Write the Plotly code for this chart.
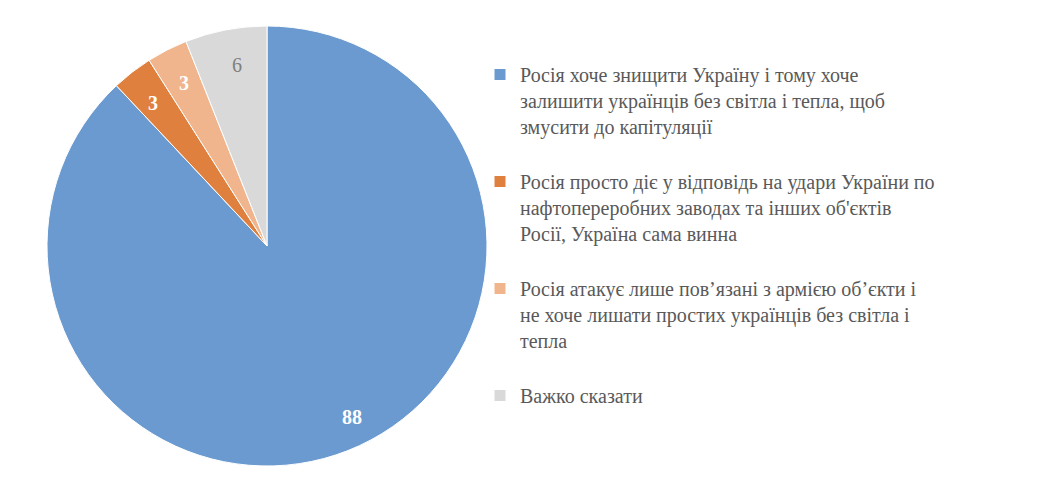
import math
import plotly.graph_objects as go

# дані
labels = [
    'Росія хоче знищити Україну і тому хоче<br>залишити українців без світла і тепла, щоб<br>змусити до капітуляції',
    'Росія просто діє у відповідь на удари України по<br>нафтопереробних заводах та інших об\'єктів<br>Росії, Україна сама винна',
    'Росія атакує лише пов’язані з армією об’єкти і<br>не хоче лишати простих українців без світла і<br>тепла',
    'Важко сказати',
]
values = [88, 3, 3, 6]
colors = ['#6A9AD0', '#E0803E', '#F0B58C', '#D9D9D9']
label_colors = ['white', 'white', 'white', '#7F7F7F']
label_bold = [True, True, True, False]

W, H = 1062, 501
off = 8  # відступ body у браузері
font_fam = 'Liberation Serif, Times New Roman, serif'
dom_x = [(47 - off) / W, (487 - off) / W]
dom_y = [1 - (466 - off) / H, 1 - (26 - off) / H]

fig = go.Figure(go.Pie(
    labels=[l + '<br> ' for l in labels],
    values=values,
    sort=False,
    direction='clockwise',
    rotation=0,
    marker=dict(colors=colors, line=dict(color='white', width=1)),
    textinfo='none',
    hoverinfo='label+value',
    domain=dict(x=dom_x, y=dom_y),
))

# підписи значень всередині сектора (біля краю)
cx = (dom_x[0] + dom_x[1]) / 2
cy = (dom_y[0] + dom_y[1]) / 2
r_px = 0.9 * 220
total = sum(values)
cum = 0
for v, c, b in zip(values, label_colors, label_bold):
    mid = (cum + v / 2) / total * 2 * math.pi
    cum += v
    ax = cx + r_px * math.sin(mid) / W
    ay = cy + r_px * math.cos(mid) / H
    txt = f'<b>{v}</b>' if b else str(v)
    fig.add_annotation(x=ax, y=ay, xref='paper', yref='paper', text=txt, showarrow=False,
                       font=dict(color=c, size=20, family=font_fam))

fig.update_layout(
    width=W, height=H,
    paper_bgcolor='white', plot_bgcolor='white',
    margin=dict(l=0, r=0, t=0, b=0),
    font=dict(family=font_fam, size=20, color='#595959'),
    legend=dict(x=(490 - off - 10) / W, y=1 - (62 - off - 7) / H, xanchor='left', yanchor='top', valign='top',
                bgcolor='rgba(0,0,0,0)',
                font=dict(family=font_fam, size=20, color='#595959'), itemwidth=30, tracegroupgap=0),
)

fig.write_html("out.html")
